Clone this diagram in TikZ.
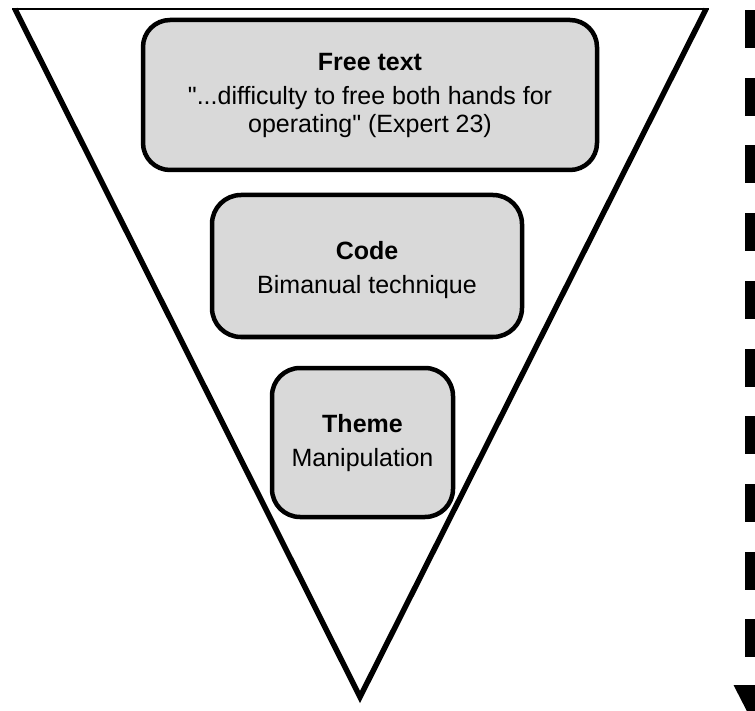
\documentclass[tikz,border=0pt]{standalone}
\usepackage{fontspec}
\setmainfont{Liberation Sans}[Ligatures=TeXOff]
\usetikzlibrary{arrows.meta}
\definecolor{boxgray}{HTML}{D9D9D9}
\tikzset{
  levelbox/.style={draw=black, line width=4.5pt, fill=boxgray, rounded corners=27pt,
    inner sep=0pt},
  leveltext/.style={align=center, inner sep=0pt, font=\fontsize{25}{27.5}\selectfont},
  funnel/.style={line width=5.5pt, line join=miter},
  topedge/.style={line width=1.6pt},
  flowarrow/.style={line width=14pt, dash pattern=on 38pt off 29.7pt,
    -{Triangle[length=37pt,width=34pt]}}
}
\begin{document}
\begin{tikzpicture}[x=1pt,y=-1pt]
\useasboundingbox (0,0) rectangle (755,711);
% funnel triangle
\coordinate (tl) at (15,9);
\coordinate (tr) at (706,9);
\coordinate (ap) at (360,697);
\coordinate (tlo) at (12,9);
\coordinate (tro) at (709,9);
\draw[funnel] (tl) -- (ap) -- (tr);
\draw[topedge] (tlo) -- (tro);
% boxes
\node[levelbox, minimum width=454pt, minimum height=150pt] (free) at (370,95) {};
\node[leveltext] (freetxt) at (370,95)
  {\textbf{Free text}\\[7pt]"...difficulty to free both hands for\\operating" (Expert 23)};
\node[levelbox, minimum width=310pt, minimum height=142pt, rounded corners=29pt] (code) at (367,266) {};
\node[leveltext] (codetxt) at (367,270)
  {\textbf{Code}\\[6pt]Bimanual technique};
\node[levelbox, minimum width=181pt, minimum height=149pt, rounded corners=28pt] (theme) at (362.5,442.5) {};
\node[leveltext] (themetxt) at (362.5,443)
  {\textbf{Theme}\\[7pt]Manipulation};
% dashed arrow on the right
\coordinate (as) at (752,10);
\coordinate (ae) at (752,722);
\draw[flowarrow] (as) -- (ae);
\end{tikzpicture}
\end{document}
